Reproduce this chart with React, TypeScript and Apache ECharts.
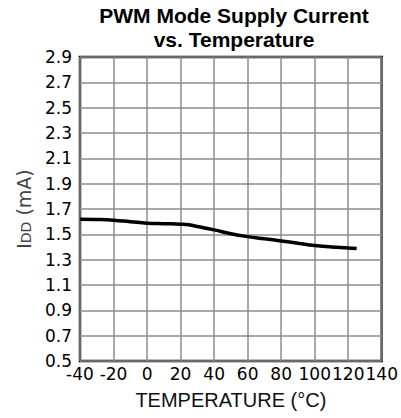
import React, { useEffect, useRef } from "react";
import * as echarts from "echarts";

const temperatures = [-40, -30, -20, -10, 0, 10, 20, 25, 30, 40, 50, 60, 70, 80, 90, 100, 110, 120, 125];
const supplyCurrent = [1.62, 1.618, 1.612, 1.6, 1.588, 1.584, 1.58, 1.575, 1.562, 1.535, 1.505, 1.482, 1.465, 1.448, 1.43, 1.412, 1.4, 1.393, 1.388];
const titleLine1 = "PWM Mode Supply Current";
const titleLine2 = "vs. Temperature";
const xAxisTitle = "TEMPERATURE (°C)";

export default function App() {
  const ref = useRef<HTMLDivElement>(null);
  useEffect(() => {
    document.body.style.margin = "0";
    const chart = echarts.init(ref.current!, null, { renderer: "svg" });
    const font = "'Liberation Sans', Arial, Helvetica, sans-serif";
    const tickFont = "'DejaVu Sans', sans-serif";
    const titleStyle = { fontFamily: font, fontSize: 21, fontWeight: "bold", color: "#000", lineHeight: 21 };
    chart.setOption({
      animation: false,
      backgroundColor: "#fff",
      title: [
        { text: titleLine1, left: 234, top: 5, padding: 0, textAlign: "center", textStyle: titleStyle },
        { text: titleLine2, left: 234, top: 29, padding: 0, textAlign: "center", textStyle: titleStyle },
      ],
      grid: { left: 80, right: 17, top: 57, bottom: 57, show: true, borderColor: "#000", borderWidth: 2.5, backgroundColor: "transparent" },
      xAxis: {
        type: "value",
        min: -40,
        max: 140,
        interval: 20,
        name: xAxisTitle,
        nameLocation: "middle",
        nameGap: 29,
        nameTextStyle: { fontFamily: font, fontSize: 20, color: "#111" },
        axisLine: { show: false },
        axisTick: { show: false },
        axisLabel: { fontFamily: tickFont, fontSize: 17, color: "#000", margin: 4, showMaxLabel: true, showMinLabel: true },
        splitLine: { show: true, lineStyle: { color: "#8c8c8c", width: 1.5 } },
      },
      yAxis: {
        type: "value",
        min: 0.5,
        max: 2.9,
        interval: 0.2,
        name: "{a|I}{b|DD}{a| (mA)}",
        nameLocation: "middle",
        nameGap: 47,
        nameRotate: 90,
        nameTextStyle: {
          fontFamily: tickFont,
          color: "#444",
          rich: {
            a: { fontFamily: tickFont, fontSize: 19, color: "#444", lineHeight: 26, verticalAlign: "bottom" },
            b: { fontFamily: tickFont, fontSize: 14, color: "#444", lineHeight: 10, verticalAlign: "bottom" },
          },
        },
        axisLine: { show: false },
        axisTick: { show: false },
        axisLabel: {
          fontFamily: tickFont,
          fontSize: 17,
          color: "#000",
          margin: 8,
          formatter: (v: number) => v.toFixed(1),
        },
        splitLine: { show: true, lineStyle: { color: "#8c8c8c", width: 1.5 } },
      },
      series: [
        {
          type: "line",
          data: temperatures.map((t, i) => [t, supplyCurrent[i]]),
          smooth: true,
          showSymbol: false,
          lineStyle: { color: "#000", width: 3.5 },
        },
      ],
    });
    return () => chart.dispose();
  }, []);
  return <div ref={ref} style={{ width: 401, height: 418 }} />;
}
